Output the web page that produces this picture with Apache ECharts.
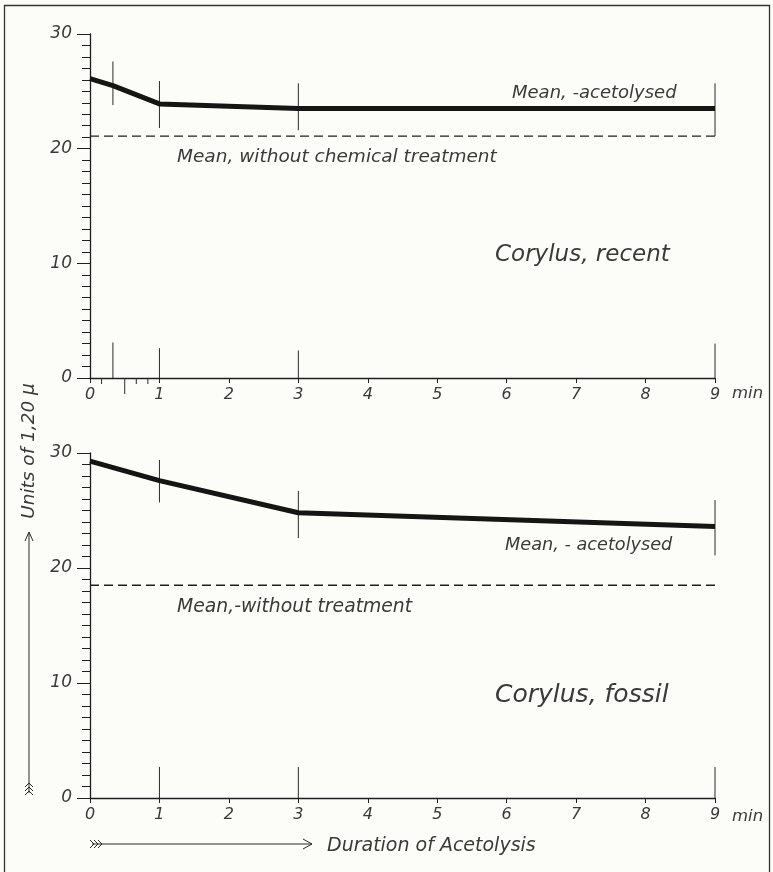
<!DOCTYPE html>
<html>
<head>
<meta charset="utf-8">
<script src="https://cdn.jsdelivr.net/npm/echarts@6/dist/echarts.min.js"></script>
<style>
html,body{margin:0;padding:0;background:#fcfcf9;}
#c{width:773px;height:872px;}
</style>
</head>
<body>
<div id="c"></div>
<script>
// ---- data ----
const xTickValues = [0, 1, 2, 3, 4, 5, 6, 7, 8, 9];
const yTickValues = [0, 10, 20, 30];

// Corylus, recent
const recentMeanX = [0, 0.33, 1, 3, 9];
const recentMeanY = [26.1, 25.5, 23.9, 23.5, 23.5];
const recentUntreated = 21.1;
const recentBarX = [0.33, 1, 3, 9];
const recentBarLow = [23.8, 21.8, 21.6, 21.1];
const recentBarHigh = [27.6, 25.9, 25.7, 25.7];
const recentBaseMarkHeight = [3.1, 2.6, 2.4, 3.0];
const recentSubTicks = [1/6, 0.5, 2/3, 5/6];

// Corylus, fossil
const fossilMeanX = [0, 1, 3, 9];
const fossilMeanY = [29.3, 27.6, 24.8, 23.6];
const fossilUntreated = 18.5;
const fossilBarX = [1, 3, 9];
const fossilBarLow = [25.7, 22.6, 21.1];
const fossilBarHigh = [29.4, 26.7, 25.9];
const fossilBaseMarkHeight = [2.7, 2.7, 2.7];

// ---- styles ----
const INK = '#1e1e1e';
const TXT = '#3a3a3a';
const FONT = "'DejaVu Sans', sans-serif";
const italic = (size) => ({fontFamily: FONT, fontStyle: 'italic', fontWeight: 200, fontSize: size, color: TXT});

const chart = echarts.init(document.getElementById('c'), null, {renderer: 'canvas'});

function xAxisCfg(gridIndex) {
  return {
    type: 'value', gridIndex, min: 0, max: 9, interval: 1,
    axisLine: {show: true, onZero: false, lineStyle: {color: INK, width: 1.3}},
    axisTick: {show: true, inside: false, length: 5, lineStyle: {color: INK, width: 1}},
    axisLabel: Object.assign({margin: 9, formatter: v => xTickValues.includes(v) ? String(v) : ''}, italic(16)),
    splitLine: {show: false}
  };
}
function yAxisCfg(gridIndex) {
  return {
    type: 'value', gridIndex, min: 0, max: 30, interval: 10,
    axisLine: {show: true, lineStyle: {color: INK, width: 1.3}},
    axisTick: {show: true, inside: false, length: 13, lineStyle: {color: INK, width: 1}},
    minorTick: {show: true, splitNumber: 10, length: 8, lineStyle: {color: INK, width: 1}},
    axisLabel: Object.assign({margin: 18, formatter: v => yTickValues.includes(v) ? String(v) : ''}, italic(17)),
    splitLine: {show: false}, minorSplitLine: {show: false}
  };
}

function meanSeries(xs, ys, idx) {
  return {
    type: 'line', xAxisIndex: idx, yAxisIndex: idx,
    data: xs.map((x, i) => [x, ys[i]]),
    symbol: 'none', smooth: false, silent: true, z: 5,
    lineStyle: {color: '#151515', width: 5, join: 'round', cap: 'butt'}
  };
}
function untreatedSeries(v, idx) {
  return {
    type: 'line', xAxisIndex: idx, yAxisIndex: idx,
    data: [[0, v], [9, v]], symbol: 'none', silent: true, z: 3,
    lineStyle: {color: INK, width: 1.3, type: [9, 5]}
  };
}
function barSeries(xs, lows, highs, idx) {
  return {
    type: 'custom', xAxisIndex: idx, yAxisIndex: idx, silent: true, z: 4,
    data: xs.map((x, i) => [x, lows[i], highs[i]]),
    renderItem: (params, api) => {
      const a = api.coord([api.value(0), api.value(1)]);
      const b = api.coord([api.value(0), api.value(2)]);
      return {type: 'line', shape: {x1: a[0], y1: a[1], x2: b[0], y2: b[1]},
              style: {stroke: '#2a2a2a', lineWidth: 1}};
    }
  };
}
function baseMarkSeries(xs, hs, idx) {
  return {
    type: 'custom', xAxisIndex: idx, yAxisIndex: idx, silent: true, z: 4,
    data: xs.map((x, i) => [x, 0, hs[i]]),
    renderItem: (params, api) => {
      const a = api.coord([api.value(0), api.value(1)]);
      const b = api.coord([api.value(0), api.value(2)]);
      return {type: 'line', shape: {x1: a[0], y1: a[1], x2: b[0], y2: b[1]},
              style: {stroke: '#2a2a2a', lineWidth: 1}};
    }
  };
}
function subTickSeries(xs, idx) {
  return {
    type: 'custom', xAxisIndex: idx, yAxisIndex: idx, silent: true, clip: false, z: 4,
    data: xs.map(x => [x, 0]),
    renderItem: (params, api) => {
      const x = api.value(0);
      const p = api.coord([x, 0]);
      const len = Math.abs(x - 0.5) < 1e-6 ? 16 : 6;
      return {type: 'line', shape: {x1: p[0], y1: p[1], x2: p[0], y2: p[1] + len},
              style: {stroke: '#2a2a2a', lineWidth: 1}};
    }
  };
}

function txt(x, y, text, size, opts) {
  return Object.assign({type: 'text', x, y, silent: true,
    style: Object.assign({text, fill: TXT, font: `italic 200 ${size}px ${FONT}`,
      textAlign: 'left', textVerticalAlign: 'middle'}, opts || {})});
}
function ln(x1, y1, x2, y2, w) {
  return {type: 'line', silent: true, shape: {x1, y1, x2, y2}, style: {stroke: '#2a2a2a', lineWidth: w || 1}};
}
function poly(points) {
  return {type: 'polyline', silent: true, shape: {points}, style: {stroke: '#2a2a2a', lineWidth: 1, fill: null}};
}

const graphics = [
  // frame
  {type: 'rect', silent: true, shape: {x: 4.5, y: 5.5, width: 765, height: 900},
   style: {stroke: '#333', lineWidth: 1.3, fill: null}},
  // annotations top
  txt(512, 93, 'Mean, -acetolysed', 18),
  txt(177, 157, 'Mean, without chemical treatment', 18.5),
  txt(495, 255, 'Corylus, recent', 23),
  txt(732, 394, 'min', 16.5),
  // annotations bottom
  txt(505, 545, 'Mean, - acetolysed', 17.7),
  txt(177, 607, 'Mean,-without treatment', 18.8),
  txt(495, 695, 'Corylus, fossil', 25),
  txt(732, 817, 'min', 16.5),
  // x axis title with arrow
  txt(327, 846, 'Duration of Acetolysis', 19),
  ln(92, 844, 312, 844),
  poly([[303, 839], [312, 844], [303, 849]]),
  poly([[90, 840], [94, 844], [90, 848]]),
  poly([[94, 840], [98, 844], [94, 848]]),
  poly([[98, 840], [102, 844], [98, 848]]),
  // y axis title with arrow
  {type: 'text', x: 29, y: 451, rotation: Math.PI / 2, silent: true,
   style: {text: 'Units of 1,20 \u03bc', fill: TXT, font: `italic 200 18.5px ${FONT}`,
     textAlign: 'center', textVerticalAlign: 'middle'}},
  ln(29, 793, 29, 532),
  poly([[25, 541], [29, 532], [33, 541]]),
  poly([[25, 795], [29, 791], [33, 795]]),
  poly([[25, 791], [29, 787], [33, 791]]),
  poly([[25, 787], [29, 783], [33, 787]])
];

chart.setOption({
  backgroundColor: '#fcfcf9',
  animation: false,
  grid: [
    {left: 90, top: 34, width: 625, height: 344},
    {left: 90, top: 453, width: 625, height: 345}
  ],
  xAxis: [xAxisCfg(0), xAxisCfg(1)],
  yAxis: [yAxisCfg(0), yAxisCfg(1)],
  series: [
    meanSeries(recentMeanX, recentMeanY, 0),
    untreatedSeries(recentUntreated, 0),
    barSeries(recentBarX, recentBarLow, recentBarHigh, 0),
    baseMarkSeries(recentBarX, recentBaseMarkHeight, 0),
    subTickSeries(recentSubTicks, 0),
    meanSeries(fossilMeanX, fossilMeanY, 1),
    untreatedSeries(fossilUntreated, 1),
    barSeries(fossilBarX, fossilBarLow, fossilBarHigh, 1),
    baseMarkSeries(fossilBarX, fossilBaseMarkHeight, 1)
  ],
  graphic: graphics
});
</script>
</body>
</html>
